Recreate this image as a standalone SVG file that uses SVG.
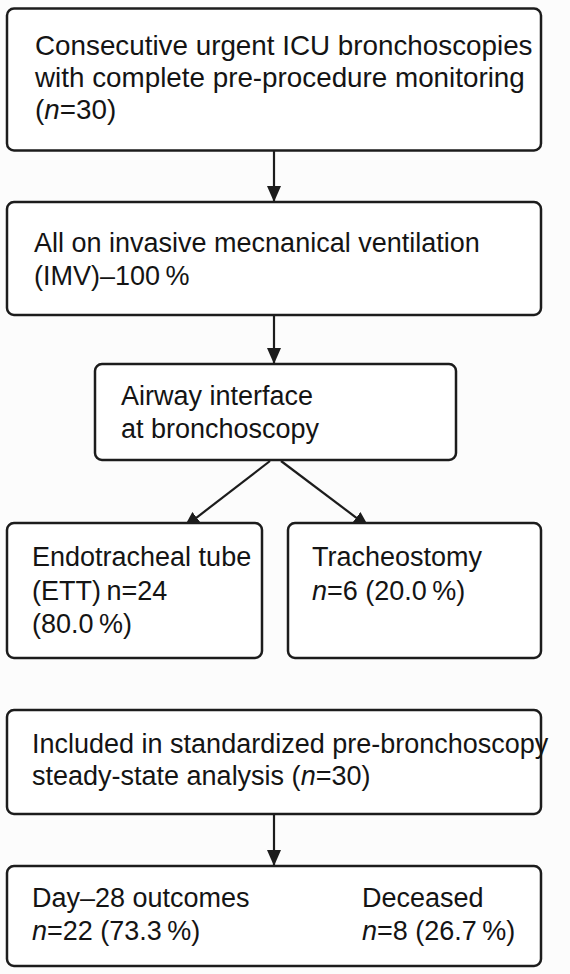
<svg xmlns="http://www.w3.org/2000/svg" width="570" height="974" viewBox="0 0 570 974">
<style>
.box{fill:#ffffff;stroke:#1c1c1c;stroke-width:2.5}
.t{font-family:"Liberation Sans",Arial,sans-serif;font-size:27px;fill:#141414}
.big{font-size:27.8px}
.c{stroke:#1c1c1c;stroke-width:2.2;fill:none}
</style>
<defs>
<marker id="ah" markerUnits="userSpaceOnUse" markerWidth="16" markerHeight="14" refX="16" refY="7" orient="auto">
<path d="M0,0 L16,7 L0,14 z" fill="#1c1c1c"/>
</marker>
</defs>
<rect x="0" y="0" width="570" height="974" fill="#fcfcfc"/>
<g id="connectors">
<line class="c" x1="274" y1="150.5" x2="274" y2="202" marker-end="url(#ah)"/>
<line class="c" x1="274" y1="315" x2="274" y2="364" marker-end="url(#ah)"/>
<line class="c" x1="270" y1="461" x2="184" y2="527.3" marker-end="url(#ah)"/>
<line class="c" x1="281" y1="461" x2="369" y2="527.3" marker-end="url(#ah)"/>
<line class="c" x1="274" y1="814" x2="274" y2="866" marker-end="url(#ah)"/>
</g>
<g id="n1">
<rect class="box" x="7" y="8.5" width="534" height="142" rx="7"/>
<text class="t big" x="35" y="55">Consecutive urgent ICU bronchoscopies</text>
<text class="t big" x="35" y="87">with complete pre-procedure monitoring</text>
<text class="t big" x="35" y="119">(<tspan font-style="italic">n</tspan>=30)</text>
</g>
<g id="n2">
<rect class="box" x="7" y="202" width="534" height="113" rx="7"/>
<text class="t" x="34" y="252">All on invasive mecnanical ventilation</text>
<text class="t" x="34" y="285">(IMV)–100&#8201;%</text>
</g>
<g id="n3">
<rect class="box" x="95" y="364" width="361" height="96" rx="7"/>
<text class="t" x="121" y="405">Airway interface</text>
<text class="t" x="121" y="438">at bronchoscopy</text>
</g>
<g id="n4">
<rect class="box" x="7" y="523" width="255" height="135" rx="7"/>
<text class="t" x="32" y="566">Endotracheal tube</text>
<text class="t" x="32" y="600">(ETT)&#8201;n=24</text>
<text class="t" x="32" y="633">(80.0&#8201;%)</text>
</g>
<g id="n5">
<rect class="box" x="288" y="523" width="253" height="135" rx="7"/>
<text class="t" x="312" y="566">Tracheostomy</text>
<text class="t" x="312" y="600"><tspan font-style="italic">n</tspan>=6 (20.0&#8201;%)</text>
</g>
<g id="n6">
<rect class="box" x="7" y="710" width="534" height="104" rx="7"/>
<text class="t" x="32" y="753">Included in standardized pre-bronchoscopy</text>
<text class="t" x="32" y="785">steady-state analysis (<tspan font-style="italic">n</tspan>=30)</text>
</g>
<g id="n7">
<rect class="box" x="7" y="866" width="534" height="100" rx="7"/>
<text class="t" x="32" y="907">Day–28 outcomes</text>
<text class="t" x="32" y="940"><tspan font-style="italic">n</tspan>=22 (73.3&#8201;%)</text>
<text class="t" x="362" y="907">Deceased</text>
<text class="t" x="362" y="940"><tspan font-style="italic">n</tspan>=8 (26.7&#8201;%)</text>
</g>
</svg>
